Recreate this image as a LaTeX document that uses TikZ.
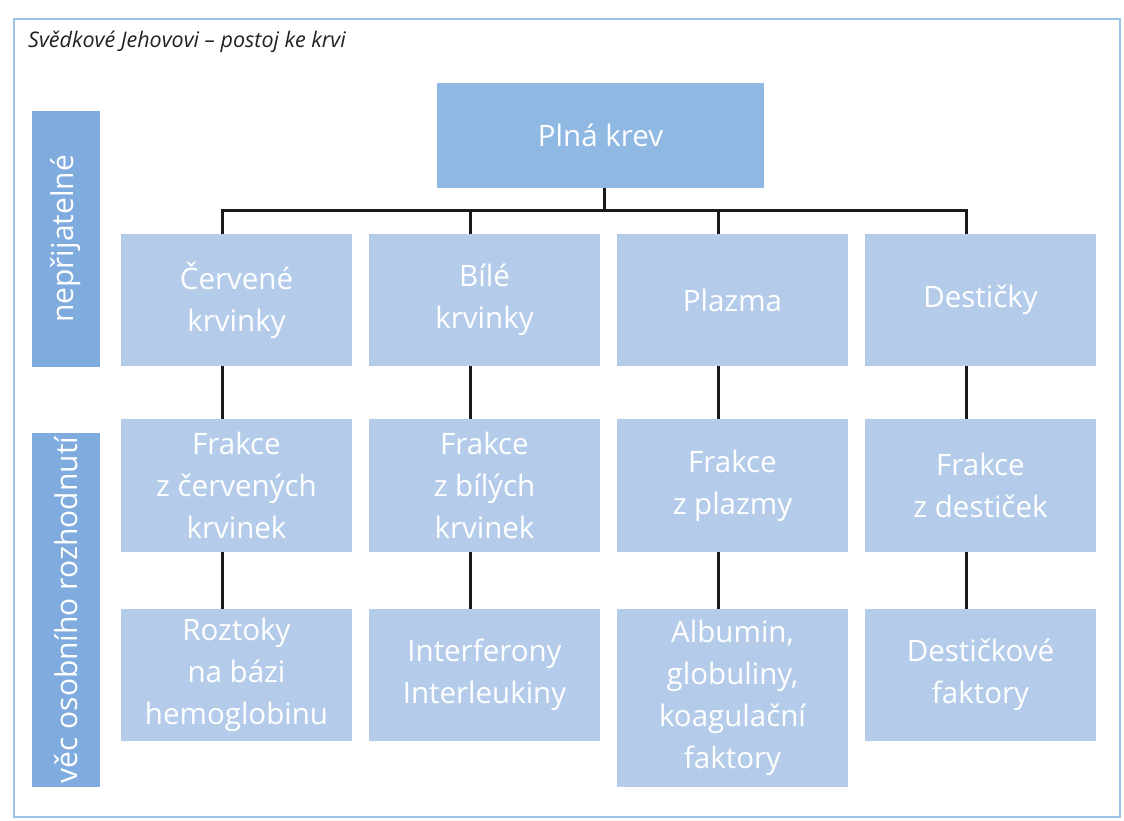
\documentclass[tikz,border=0pt]{standalone}
\usepackage{fontspec}
\setmainfont{Open Sans}
\usetikzlibrary{positioning}
\definecolor{root-fill}{HTML}{8FB8E3}
\definecolor{box-fill}{HTML}{B4CCEA}
\definecolor{side-fill}{HTML}{7FABDE}
\definecolor{frame-line}{HTML}{9CC2E8}
\definecolor{edge}{HTML}{1A1A1A}
\definecolor{title-text}{HTML}{222222}
\newcommand{\cellfont}{\fontsize{29.5}{42}\selectfont}
\tikzset{
  rootbox/.style={
    rectangle, fill=root-fill, text=white,
    minimum width=327pt, minimum height=105pt, inner sep=0pt, align=center, font=\cellfont
  },
  catbox/.style={
    rectangle, fill=box-fill, text=white,
    minimum width=231pt, minimum height=132pt, inner sep=0pt, align=center, font=\cellfont
  },
  sidebar/.style={
    rectangle, fill=side-fill, text=white, rotate=90,
    minimum height=68pt, inner sep=0pt, font=\fontsize{30}{34}\selectfont
  },
  conn/.style={draw=edge, line width=3pt},
  title/.style={font=\fontsize{21.5}{25}\selectfont\itshape, text=title-text}
}

\begin{document}
\begin{tikzpicture}[x=1pt, y=-1pt]
  \useasboundingbox (0,0) rectangle (1124,821);
  \fill[white] (0,0) rectangle (1124,821);
  \draw[frame-line, line width=2.5pt] (14,19) rectangle (1120,817);

  % ---- Title ----------------------------------------------------------------
  \node[title, anchor=base west, inner sep=0pt] (title) at (28,48) {Svědkové Jehovovi – postoj ke krvi};

  % ---- Side labels ----------------------------------------------------------
  \node[sidebar, minimum width=256pt] (nepr) at (66,239) {nepřijatelné};
  \node[sidebar, minimum width=354pt] (osob) at (66,610) {věc osobního rozhodnutí};

  % ---- Nodes ----------------------------------------------------------------
  \node[rootbox] (plna) at (600.5,135.5) {Plná krev};

  \node[catbox] (cerv) at (236.5,300) {Červené\\krvinky};
  \node[catbox] (bile) at (484.5,300) {Bílé\\krvinky};
  \node[catbox] (plaz) at (732.5,300) {Plazma};
  \node[catbox] (dest) at (980.5,300) {Destičky};

  \node[catbox, minimum height=133pt] (fcerv) at (236.5,485.5) {Frakce\\z červených\\krvinek};
  \node[catbox, minimum height=133pt] (fbile) at (484.5,485.5) {Frakce\\z bílých\\krvinek};
  \node[catbox, minimum height=133pt] (fplaz) at (732.5,485.5) {Frakce\\z plazmy};
  \node[catbox, minimum height=133pt] (fdest) at (980.5,485.5) {Frakce\\z destiček};

  \node[catbox] (hemo)  at (236.5,675) {Roztoky\\na bázi\\hemoglobinu};
  \node[catbox] (inter) at (484.5,675) {Interferony\\Interleukiny};
  \node[catbox, minimum height=178pt] (albu) at (732.5,698) {Albumin,\\globuliny,\\koagulační\\faktory};
  \node[catbox] (dfakt) at (980.5,675) {Destičkové\\faktory};

  % ---- Edges ----------------------------------------------------------------
  \coordinate (bus) at (0,211);
  \draw[conn] ([xshift=3.5pt]plna.south) -- ([xshift=3.5pt]plna.south |- bus);
  \draw[conn, line cap=rect] ([xshift=-14pt]cerv.north |- bus) -- ([xshift=-14pt]dest.north |- bus);
  \foreach \n in {cerv, bile, plaz, dest}
    \draw[conn] ([xshift=-14pt]\n.north) -- ([xshift=-14pt]\n.north |- bus);

  \draw[conn] ([xshift=-14pt]cerv.south) -- ([xshift=-14pt]fcerv.north);
  \draw[conn] ([xshift=-14pt]bile.south) -- ([xshift=-14pt]fbile.north);
  \draw[conn] ([xshift=-14pt]plaz.south) -- ([xshift=-14pt]fplaz.north);
  \draw[conn] ([xshift=-14pt]dest.south) -- ([xshift=-14pt]fdest.north);

  \draw[conn] ([xshift=-14pt]fcerv.south) -- ([xshift=-14pt]hemo.north);
  \draw[conn] ([xshift=-14pt]fbile.south) -- ([xshift=-14pt]inter.north);
  \draw[conn] ([xshift=-14pt]fplaz.south) -- ([xshift=-14pt]albu.north);
  \draw[conn] ([xshift=-14pt]fdest.south) -- ([xshift=-14pt]dfakt.north);

\end{tikzpicture}
\end{document}
